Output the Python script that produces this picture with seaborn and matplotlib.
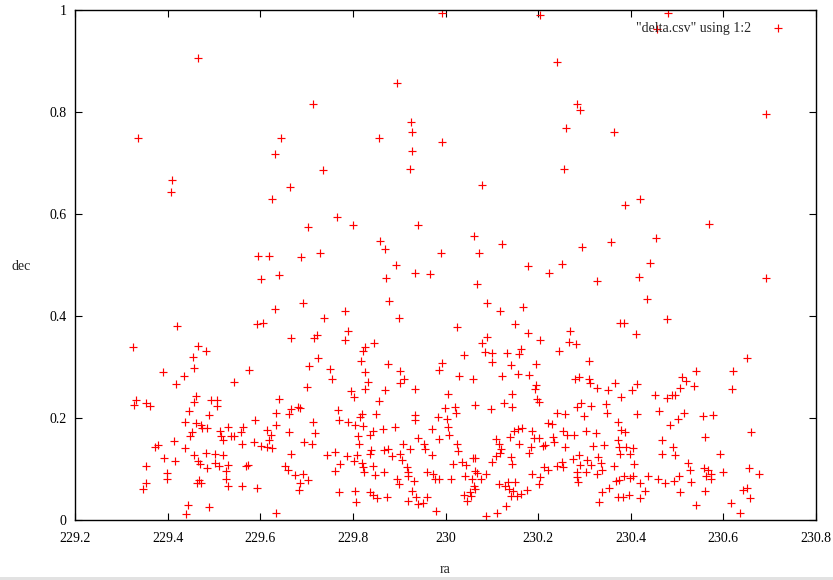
import matplotlib
matplotlib.use("Agg")
import matplotlib.pyplot as plt
import seaborn as sns
import pandas as pd
from matplotlib.patches import Rectangle

# ---------------- data ----------------
ra_top = [229.992, 229.465, 229.895, 229.714, 229.926, 229.337, 229.644, 229.857, 229.927, 229.993,
          229.632, 229.927, 229.736, 229.923, 229.409, 229.407, 229.664, 229.625, 229.766, 229.703,
          229.800, 229.940, 229.858, 229.870, 229.990, 229.595, 229.619, 229.687, 229.730, 229.894,
          229.934, 229.967, 229.601, 229.641, 229.871, 229.877, 229.693, 229.632, 229.782,
          230.203, 230.481, 230.456, 230.240, 230.284, 230.291, 230.692, 230.261, 230.364, 230.255,
          230.079, 230.421, 230.387, 230.569, 230.062, 230.455, 230.122, 230.073, 230.295, 230.357,
          230.178, 230.224, 230.252, 230.441, 230.417, 230.328, 230.693, 230.067, 230.090, 230.167,
          230.436, 230.117]
dec_top = [0.995, 0.905, 0.857, 0.816, 0.781, 0.750, 0.750, 0.750, 0.760, 0.741,
           0.717, 0.723, 0.686, 0.688, 0.667, 0.643, 0.652, 0.629, 0.595, 0.574,
           0.578, 0.579, 0.548, 0.532, 0.524, 0.518, 0.518, 0.515, 0.523, 0.500,
           0.485, 0.482, 0.472, 0.480, 0.475, 0.429, 0.425, 0.413, 0.410,
           0.990, 0.995, 0.962, 0.899, 0.815, 0.803, 0.796, 0.769, 0.761, 0.688,
           0.656, 0.629, 0.617, 0.580, 0.557, 0.552, 0.541, 0.523, 0.535, 0.546,
           0.498, 0.485, 0.501, 0.503, 0.476, 0.468, 0.475, 0.462, 0.425, 0.417,
           0.433, 0.409]

ra_a = [229.421, 229.325, 229.466, 229.482, 229.455, 229.456, 229.391, 229.435, 229.418, 229.544,
        229.462, 229.456, 229.332, 229.327, 229.354, 229.363, 229.494, 229.507, 229.507, 229.447,
        229.489, 229.438, 229.462, 229.471, 229.474, 229.486, 229.452, 229.448, 229.514, 229.531,
        229.515, 229.520, 229.537, 229.544, 229.414, 229.379, 229.373, 229.438, 229.458, 229.482,
        229.503, 229.520, 229.392, 229.416, 229.466, 229.470, 229.502, 229.510, 229.530, 229.354,
        229.485, 229.525, 229.399, 229.399, 229.525, 229.467, 229.472, 229.464, 229.354, 229.347,
        229.530, 229.443, 229.489, 229.439]
dec_a = [0.380, 0.340, 0.341, 0.332, 0.319, 0.298, 0.290, 0.283, 0.267, 0.270,
         0.243, 0.231, 0.235, 0.225, 0.229, 0.224, 0.235, 0.235, 0.224, 0.214,
         0.205, 0.193, 0.191, 0.186, 0.180, 0.180, 0.173, 0.164, 0.175, 0.182,
         0.165, 0.157, 0.164, 0.164, 0.154, 0.148, 0.143, 0.141, 0.128, 0.131,
         0.130, 0.127, 0.122, 0.116, 0.115, 0.109, 0.112, 0.106, 0.107, 0.105,
         0.101, 0.097, 0.092, 0.080, 0.080, 0.078, 0.073, 0.073, 0.073, 0.060,
         0.066, 0.029, 0.025, 0.011]

ra_b = [229.592, 229.607, 229.737, 229.790, 229.784, 229.667, 229.717, 229.723, 229.846, 229.826,
        229.822, 229.818, 229.875, 229.724, 229.705, 229.750, 229.756, 229.576, 229.827, 229.832,
        229.826, 229.795, 229.803, 229.870, 229.857, 229.702, 229.641, 229.666, 229.662, 229.682,
        229.686, 229.633, 229.589, 229.633, 229.615, 229.623, 229.618, 229.615, 229.625, 229.601,
        229.562, 229.558, 229.561, 229.587, 229.661, 229.713, 229.719, 229.695, 229.712, 229.666,
        229.569, 229.573, 229.561, 229.592, 229.654, 229.660, 229.674, 229.693, 229.685, 229.703,
        229.683, 229.633, 229.744, 229.761, 229.773, 229.762, 229.788, 229.767, 229.771, 229.790,
        229.805, 229.821, 229.815, 229.820, 229.849, 229.810, 229.813, 229.844, 229.836, 229.865,
        229.840, 229.837, 229.867, 229.875, 229.808, 229.803, 229.819, 229.821, 229.824, 229.844,
        229.848, 229.868, 229.771, 229.804, 229.807, 229.836, 229.843, 229.852, 229.873]
dec_b = [0.384, 0.387, 0.396, 0.371, 0.352, 0.357, 0.356, 0.362, 0.348, 0.339,
         0.332, 0.312, 0.306, 0.318, 0.301, 0.296, 0.276, 0.294, 0.290, 0.271,
         0.257, 0.252, 0.241, 0.255, 0.234, 0.261, 0.237, 0.217, 0.207, 0.222,
         0.220, 0.209, 0.197, 0.186, 0.177, 0.167, 0.157, 0.144, 0.141, 0.145,
         0.183, 0.173, 0.149, 0.153, 0.173, 0.193, 0.171, 0.152, 0.149, 0.129,
         0.105, 0.107, 0.067, 0.062, 0.105, 0.098, 0.088, 0.090, 0.073, 0.078,
         0.058, 0.014, 0.127, 0.133, 0.109, 0.096, 0.125, 0.216, 0.196, 0.193,
         0.186, 0.184, 0.201, 0.207, 0.207, 0.164, 0.150, 0.175, 0.167, 0.178,
         0.137, 0.129, 0.137, 0.139, 0.127, 0.116, 0.111, 0.103, 0.095, 0.105,
         0.088, 0.094, 0.054, 0.057, 0.035, 0.054, 0.050, 0.044, 0.045]

ra_c = [229.900, 230.024, 230.150, 230.178, 230.204, 230.078, 230.090, 230.085, 230.100, 230.100,
        230.132, 230.158, 230.164, 230.141, 230.196, 230.041, 229.993, 229.985, 229.901, 229.911,
        229.901, 229.934, 230.029, 230.060, 230.122, 230.157, 230.180, 230.196, 230.194, 230.198,
        230.201, 230.144, 230.127, 230.144, 230.099, 230.064, 230.006, 229.999, 230.021, 230.023,
        230.003, 229.983, 229.935, 229.935, 230.006, 230.008, 229.971, 229.985, 229.892, 229.940,
        229.908, 229.924, 229.953, 229.956, 229.902, 229.884, 229.905, 229.970, 230.024, 230.026,
        230.016, 230.035, 230.045, 230.043, 230.011, 229.985, 229.974, 229.977, 229.961, 229.917,
        229.920, 229.918, 229.895, 229.900, 229.931, 229.927, 229.936, 229.918, 229.940, 229.952,
        229.960, 229.980, 230.064, 230.060, 230.063, 230.067, 230.057, 230.077, 230.088, 230.101,
        230.062, 230.052, 230.055, 230.041, 230.047, 230.064, 230.088, 230.111, 230.109, 230.116,
        230.119, 230.118, 230.110, 230.139, 230.148, 230.156, 230.166, 230.186, 230.192, 230.201,
        230.211, 230.158, 230.185, 230.181, 230.141, 230.143, 230.187, 230.205, 230.202, 230.116,
        230.129, 230.135, 230.149, 230.137, 230.146, 230.142, 230.154, 230.162, 230.176, 230.130]
dec_c = [0.397, 0.378, 0.384, 0.367, 0.352, 0.348, 0.358, 0.329, 0.327, 0.310,
         0.327, 0.325, 0.335, 0.303, 0.306, 0.323, 0.307, 0.295, 0.293, 0.276,
         0.269, 0.257, 0.283, 0.276, 0.282, 0.287, 0.284, 0.265, 0.257, 0.237,
         0.231, 0.248, 0.229, 0.221, 0.218, 0.226, 0.248, 0.219, 0.221, 0.210,
         0.198, 0.202, 0.206, 0.196, 0.183, 0.167, 0.178, 0.158, 0.183, 0.161,
         0.150, 0.139, 0.149, 0.139, 0.129, 0.125, 0.118, 0.127, 0.149, 0.136,
         0.110, 0.113, 0.107, 0.086, 0.080, 0.080, 0.090, 0.080, 0.095, 0.103,
         0.095, 0.087, 0.081, 0.071, 0.076, 0.057, 0.046, 0.037, 0.032, 0.034,
         0.045, 0.017, 0.122, 0.121, 0.097, 0.092, 0.080, 0.081, 0.090, 0.113,
         0.067, 0.055, 0.048, 0.050, 0.037, 0.061, 0.008, 0.014, 0.158, 0.150,
         0.139, 0.132, 0.125, 0.163, 0.175, 0.179, 0.180, 0.175, 0.161, 0.161,
         0.145, 0.150, 0.143, 0.131, 0.124, 0.110, 0.090, 0.085, 0.071, 0.070,
         0.067, 0.075, 0.075, 0.060, 0.056, 0.047, 0.048, 0.051, 0.058, 0.028]

ra_d = [230.376, 230.386, 230.478, 230.412, 230.268, 230.267, 230.282, 230.244, 230.310, 230.541,
        230.510, 230.520, 230.537, 230.506, 230.496, 230.489, 230.479, 230.453, 230.289, 230.279,
        230.310, 230.312, 230.328, 230.367, 230.351, 230.402, 230.414, 230.380, 230.346, 230.349,
        230.315, 230.292, 230.283, 230.241, 230.257, 230.299, 230.414, 230.461, 230.516, 230.501,
        230.485, 230.373, 230.379, 230.388, 230.373, 230.375, 230.389, 230.404, 230.377, 230.398,
        230.407, 230.363, 230.222, 230.230, 230.253, 230.263, 230.278, 230.303, 230.325, 230.232,
        230.235, 230.215, 230.257, 230.319, 230.343, 230.289, 230.276, 230.252, 230.306, 230.330,
        230.336, 230.315, 230.338, 230.291, 230.253, 230.241, 230.213, 230.222, 230.284, 230.303,
        230.328, 230.285, 230.286, 230.368, 230.375, 230.386, 230.399, 230.405, 230.421, 230.438,
        230.458, 230.473, 230.494, 230.505, 230.530, 230.523, 230.529, 230.468, 230.468, 230.492,
        230.496, 230.430, 230.354, 230.338, 230.332, 230.372, 230.384, 230.396, 230.420, 230.507,
        230.540]
dec_d = [0.387, 0.387, 0.394, 0.365, 0.370, 0.350, 0.345, 0.331, 0.312, 0.292,
         0.280, 0.273, 0.262, 0.259, 0.246, 0.245, 0.239, 0.246, 0.281, 0.276,
         0.277, 0.268, 0.259, 0.268, 0.254, 0.255, 0.267, 0.242, 0.227, 0.210,
         0.224, 0.229, 0.221, 0.209, 0.208, 0.203, 0.208, 0.214, 0.210, 0.199,
         0.187, 0.193, 0.176, 0.173, 0.157, 0.143, 0.143, 0.141, 0.129, 0.129,
         0.109, 0.105, 0.191, 0.188, 0.175, 0.167, 0.167, 0.174, 0.171, 0.163,
         0.152, 0.148, 0.144, 0.145, 0.148, 0.127, 0.119, 0.113, 0.118, 0.124,
         0.112, 0.107, 0.099, 0.108, 0.103, 0.105, 0.103, 0.099, 0.094, 0.094,
         0.090, 0.084, 0.074, 0.076, 0.078, 0.086, 0.083, 0.086, 0.073, 0.086,
         0.081, 0.072, 0.076, 0.086, 0.074, 0.112, 0.098, 0.156, 0.129, 0.144,
         0.127, 0.057, 0.062, 0.054, 0.035, 0.045, 0.045, 0.049, 0.044, 0.054,
         0.029]

ra_e = [230.652, 230.620, 230.619, 230.557, 230.578, 230.659, 230.561, 230.592, 230.559, 230.566,
        230.563, 230.573, 230.573, 230.600, 230.656, 230.678, 230.561, 230.643, 230.652, 230.658,
        230.616, 230.635]
dec_e = [0.317, 0.292, 0.256, 0.203, 0.205, 0.172, 0.163, 0.129, 0.101, 0.098,
         0.087, 0.090, 0.080, 0.094, 0.101, 0.091, 0.057, 0.058, 0.062, 0.043,
         0.033, 0.014]

x_ticks = [229.2, 229.4, 229.6, 229.8, 230.0, 230.2, 230.4, 230.6, 230.8]
x_tick_labels = ["229.2", "229.4", "229.6", "229.8", "230", "230.2", "230.4", "230.6", "230.8"]
y_ticks = [0.0, 0.2, 0.4, 0.6, 0.8, 1.0]
y_tick_labels = ["0", "0.2", "0.4", "0.6", "0.8", "1"]
series_label = '"delta.csv" using 1:2'

ra = ra_top + ra_a + ra_b + ra_c + ra_d + ra_e
dec = dec_top + dec_a + dec_b + dec_c + dec_d + dec_e
df = pd.DataFrame({"ra": ra, "dec": dec})

# ---------------- style ----------------
sns.set_style("ticks")
plt.rcParams["font.family"] = ["Liberation Serif", "DejaVu Serif"]
plt.rcParams["font.size"] = 10

W, H = 833, 580
fig = plt.figure(figsize=(W / 100, H / 100), dpi=100)
fig.patch.set_facecolor("white")
L, R, T, B = 75, 816, 10, 520
ax = fig.add_axes([L / W, (H - B) / H, (R - L) / W, (B - T) / H])

sns.scatterplot(data=df, x="ra", y="dec", marker="+", color="#ff0000",
                s=40, linewidth=0.85, label=series_label, ax=ax)

ax.set_xlim(229.2, 230.8)
ax.set_ylim(0, 1)
ax.set_xticks(x_ticks)
ax.set_xticklabels(x_tick_labels)
ax.set_yticks(y_ticks)
ax.set_yticklabels(y_tick_labels)
ax.tick_params(direction="in", length=4.8, width=0.8, top=True, right=True,
               labelsize=10, colors="black")
ax.tick_params(axis="x", pad=9)
ax.tick_params(axis="y", pad=6)
for sp in ax.spines.values():
    sp.set_linewidth(1.0)
    sp.set_color("black")

ax.set_xlabel("ra", fontsize=10)
ax.xaxis.set_label_coords((445 - L) / (R - L), -(563 - B) / (B - T))
ax.set_ylabel("dec", fontsize=10, rotation=0, ha="center", va="center")
ax.yaxis.set_label_coords((21 - L) / (R - L), (B - 266) / (B - T))

leg = ax.legend(loc="upper right", bbox_to_anchor=((797 - L) / (R - L), (B - 16) / (B - T)),
                borderaxespad=0, frameon=False, markerfirst=False,
                handletextpad=0.9, handlelength=2, fontsize=10)

fig.add_artist(Rectangle((0, 0), 1, 3 / H, transform=fig.transFigure,
                         facecolor="#e2e2e2", edgecolor="none", zorder=-5))

fig.savefig("out.png", dpi=100)
